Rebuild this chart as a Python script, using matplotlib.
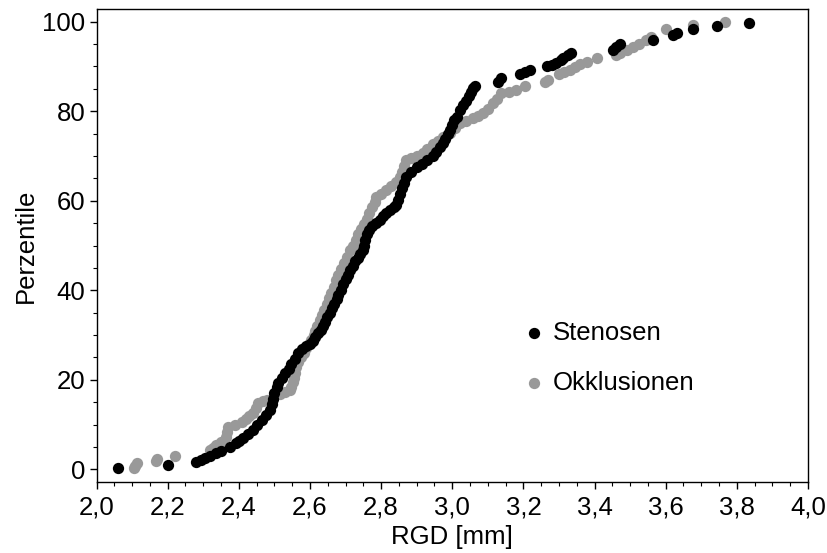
import matplotlib
matplotlib.use("Agg")
import matplotlib.pyplot as plt
from matplotlib.ticker import MultipleLocator, FuncFormatter

plt.rcParams['font.family'] = ['Liberation Sans', 'DejaVu Sans']

# Stenosen (black)
sten_x = [2.059, 2.201, 2.281, 2.295, 2.304, 2.320, 2.335, 2.350, 2.375, 2.393,
          2.400, 2.411, 2.425, 2.440, 2.452, 2.465, 2.476, 2.487, 2.492, 2.497,
          2.500, 2.506, 2.510, 2.520, 2.530, 2.540, 2.548, 2.557, 2.566, 2.578,
          2.590, 2.600, 2.608, 2.615, 2.622, 2.630, 2.636, 2.642, 2.648, 2.655,
          2.662, 2.668, 2.675, 2.680, 2.686, 2.693, 2.700, 2.706, 2.712, 2.720,
          2.727, 2.735, 2.742, 2.749, 2.752, 2.756, 2.759, 2.765, 2.775, 2.787,
          2.796, 2.806, 2.815, 2.825, 2.835, 2.843, 2.848, 2.853, 2.858, 2.864,
          2.871, 2.885, 2.900, 2.915, 2.930, 2.946, 2.955, 2.965, 2.974, 2.980,
          2.987, 2.993, 3.000, 3.006, 3.012, 3.021, 3.030, 3.040, 3.047, 3.053,
          3.058, 3.065, 3.130, 3.138, 3.190, 3.205, 3.218, 3.265, 3.280, 3.293,
          3.305, 3.312, 3.325, 3.335, 3.452, 3.460, 3.471, 3.565, 3.620, 3.631,
          3.677, 3.743, 3.835]
sten_y = [0.2, 1.0, 1.7, 2.1, 2.5, 3.0, 3.6, 4.2, 5.0, 5.8,
          6.4, 7.0, 7.9, 8.8, 9.9, 11.0, 12.1, 13.2, 14.5, 15.8,
          17.0, 18.3, 19.2, 20.3, 21.5, 22.5, 23.5, 24.6, 26.0, 26.9,
          27.5, 28.0, 28.6, 29.6, 30.4, 31.2, 32.0, 33.0, 34.0, 35.0,
          36.0, 37.0, 38.0, 39.0, 40.0, 41.5, 42.5, 43.5, 44.5, 45.5,
          46.5, 47.3, 48.2, 49.0, 50.0, 51.2, 52.5, 53.5, 54.3, 55.0,
          55.7, 56.5, 57.2, 57.9, 58.5, 59.0, 60.2, 61.5, 62.8, 64.0,
          65.3, 66.5, 67.6, 68.3, 69.0, 69.9, 70.9, 71.9, 72.9, 73.9,
          74.9, 75.8, 77.0, 78.0, 78.8, 80.3, 81.3, 82.3, 83.3, 84.3,
          85.2, 85.7, 86.6, 87.5, 88.3, 88.8, 89.2, 90.0, 90.3, 90.8,
          91.4, 91.9, 92.5, 93.0, 93.7, 94.4, 95.0, 95.9, 97.0, 97.5,
          98.3, 99.0, 99.8]

# Okklusionen (gray)
okk_x = [2.105, 2.109, 2.113, 2.166, 2.170, 2.220, 2.318, 2.327, 2.337, 2.350,
         2.365, 2.368, 2.370, 2.390, 2.410, 2.421, 2.430, 2.440, 2.447, 2.454,
         2.468, 2.480, 2.498, 2.515, 2.530, 2.543, 2.548, 2.552, 2.556, 2.558,
         2.562, 2.566, 2.574, 2.582, 2.590, 2.598, 2.604, 2.610, 2.615, 2.620,
         2.627, 2.633, 2.640, 2.647, 2.654, 2.660, 2.667, 2.674, 2.680, 2.688,
         2.697, 2.705, 2.712, 2.720, 2.728, 2.735, 2.743, 2.751, 2.759, 2.767,
         2.775, 2.782, 2.787, 2.800, 2.815, 2.828, 2.841, 2.853, 2.858, 2.865,
         2.871, 2.885, 2.900, 2.917, 2.930, 2.946, 2.960, 2.975, 2.993, 3.008,
         3.021, 3.040, 3.059, 3.073, 3.087, 3.100, 3.115, 3.125, 3.138, 3.160,
         3.180, 3.204, 3.260, 3.270, 3.300, 3.315, 3.330, 3.345, 3.360, 3.380,
         3.406, 3.460, 3.471, 3.490, 3.509, 3.525, 3.546, 3.560, 3.602, 3.677,
         3.766]
okk_y = [0.3, 0.8, 1.3, 1.8, 2.4, 3.0, 4.3, 4.8, 5.4, 6.2,
         7.3, 8.4, 9.5, 10.0, 10.6, 11.2, 11.8, 12.5, 13.6, 14.8,
         15.2, 15.5, 16.3, 16.9, 17.2, 17.7, 18.5, 19.4, 20.5, 21.6,
         22.8, 24.0, 25.0, 26.0, 27.0, 28.0, 29.0, 30.0, 31.0, 32.0,
         33.3, 34.5, 35.7, 37.0, 38.3, 39.5, 40.8, 42.2, 43.5, 44.7,
         46.0, 47.5, 49.0, 50.0, 51.3, 52.5, 53.7, 54.8, 56.0, 57.2,
         58.5, 59.7, 60.9, 61.6, 62.4, 63.2, 64.1, 65.4, 66.5, 67.8,
         69.0, 69.6, 70.1, 70.6, 71.5, 72.6, 73.3, 74.2, 75.1, 76.2,
         77.3, 77.9, 78.4, 79.0, 79.6, 80.5, 81.8, 82.8, 84.0, 84.3,
         84.7, 85.6, 86.5, 86.9, 88.3, 88.8, 89.2, 89.9, 90.6, 91.1,
         91.8, 92.6, 93.0, 93.6, 94.3, 95.0, 95.8, 96.5, 98.3, 99.3,
         100.0]

FS = 18.5

fig = plt.figure(figsize=(8.28, 5.53), dpi=100)
ax = fig.add_axes([0.1166, 0.1289, 0.8592, 0.8543])

ax.scatter(sten_x, sten_y, s=66, color='#000000', linewidths=0, label='Stenosen', zorder=3)
ax.scatter(okk_x, okk_y, s=66, color='#999999', linewidths=0, label='Okklusionen', zorder=2)

ax.set_xlim(2.0, 4.0)
ax.set_ylim(-2.77, 102.77)
ax.xaxis.set_major_locator(MultipleLocator(0.2))
ax.xaxis.set_minor_locator(MultipleLocator(0.05))
ax.yaxis.set_major_locator(MultipleLocator(20))
ax.yaxis.set_minor_locator(MultipleLocator(5))
ax.xaxis.set_major_formatter(FuncFormatter(lambda v, p: f"{v:.1f}".replace('.', ',')))
ax.tick_params(axis='both', which='major', direction='out', length=5, width=1,
               labelsize=FS, pad=3)
ax.tick_params(axis='x', which='major', pad=5)
ax.tick_params(axis='both', which='minor', direction='out', length=3, width=0.8)
for s in ax.spines.values():
    s.set_linewidth(1.0)

ax.set_xlabel('RGD [mm]', fontsize=FS, labelpad=4)
ax.set_ylabel('Perzentile', fontsize=FS, labelpad=3)

ax.legend(loc='center left', bbox_to_anchor=(0.584, 0.262), frameon=False,
          fontsize=FS, handlelength=0.9, handletextpad=0.3, labelspacing=1.0,
          scatterpoints=1, borderaxespad=0)

fig.savefig('out.png', dpi=100)
